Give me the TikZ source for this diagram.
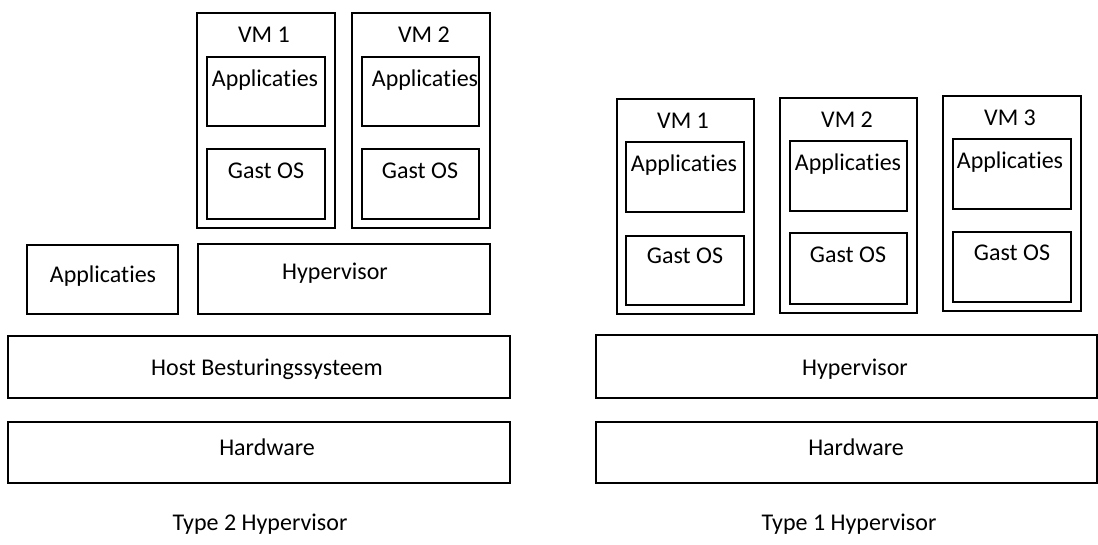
\documentclass[tikz,border=0pt]{standalone}
\usepackage{fontspec}
\setmainfont{Carlito}[Ligatures={NoCommon}]
\usetikzlibrary{fit}
\begin{document}
\begin{tikzpicture}[x=1pt,y=-1pt,
  box/.style={draw, line width=1.2pt, inner sep=0pt, outer sep=0pt},
  lbl/.style={anchor=base, inner sep=0pt, font=\fontsize{24}{28}\selectfont, text=black}]
\useasboundingbox (0,0) rectangle (1098,544);
% ---------- Type 2 ----------
\node[box, fit={(197,13)(335,228)}] (l-vm1) {};
\node[box, fit={(207,57)(325,126)}] (l-vm1-app) {};
\node[box, fit={(207,149)(325,219)}] (l-vm1-os) {};
\node[box, fit={(352,13)(490,228)}] (l-vm2) {};
\node[box, fit={(362,57)(479,126)}] (l-vm2-app) {};
\node[box, fit={(362,149)(479,219)}] (l-vm2-os) {};
\node[box, fit={(27,245)(178,314)}] (l-app) {};
\node[box, fit={(198,244)(490,314)}] (l-hyp) {};
\node[box, fit={(8,336)(510,398)}] (l-host) {};
\node[box, fit={(8,422)(510,483)}] (l-hw) {};
\node[lbl] (t-l-vm1) at (264,42) {VM 1};
\node[lbl] (t-l-vm2) at (424,42) {VM 2};
\node[lbl] (t-l-vm1-app) at (265,86) {Applicaties};
\node[lbl] (t-l-vm2-app) at (425,86) {Applicaties};
\node[lbl] (t-l-vm1-os) at (266,178) {Gast OS};
\node[lbl] (t-l-vm2-os) at (420,178) {Gast OS};
\node[lbl] (t-l-app) at (103,282) {Applicaties};
\node[lbl] (t-l-hyp) at (335,279) {Hypervisor};
\node[lbl] (t-l-host) at (267,375) {Host Besturingssysteem};
\node[lbl] (t-l-hw) at (267,455) {Hardware};
\node[lbl] (t-l-title) at (260,530) {Type 2 Hypervisor};
% ---------- Type 1 ----------
\node[box, fit={(617,99)(754,314)}] (r-vm1) {};
\node[box, fit={(626,142)(744,212)}] (r-vm1-app) {};
\node[box, fit={(626,236)(744,305)}] (r-vm1-os) {};
\node[box, fit={(780,98)(917,313)}] (r-vm2) {};
\node[box, fit={(790,141)(907,211)}] (r-vm2-app) {};
\node[box, fit={(790,233)(907,304)}] (r-vm2-os) {};
\node[box, fit={(943,96)(1081,311)}] (r-vm3) {};
\node[box, fit={(953,139)(1071,209)}] (r-vm3-app) {};
\node[box, fit={(953,232)(1071,302)}] (r-vm3-os) {};
\node[box, fit={(596,335)(1097,398)}] (r-hyp) {};
\node[box, fit={(596,422)(1097,483)}] (r-hw) {};
\node[lbl] (t-r-vm1) at (683,128) {VM 1};
\node[lbl] (t-r-vm2) at (847,127) {VM 2};
\node[lbl] (t-r-vm3) at (1010,125) {VM 3};
\node[lbl] (t-r-vm1-app) at (684,171) {Applicaties};
\node[lbl] (t-r-vm2-app) at (848,170) {Applicaties};
\node[lbl] (t-r-vm3-app) at (1010,168) {Applicaties};
\node[lbl] (t-r-vm1-os) at (685,263) {Gast OS};
\node[lbl] (t-r-vm2-os) at (848,262) {Gast OS};
\node[lbl] (t-r-vm3-os) at (1012,260) {Gast OS};
\node[lbl] (t-r-hyp) at (855,375) {Hypervisor};
\node[lbl] (t-r-hw) at (856,455) {Hardware};
\node[lbl] (t-r-title) at (849,530) {Type 1 Hypervisor};
\end{tikzpicture}
\end{document}
